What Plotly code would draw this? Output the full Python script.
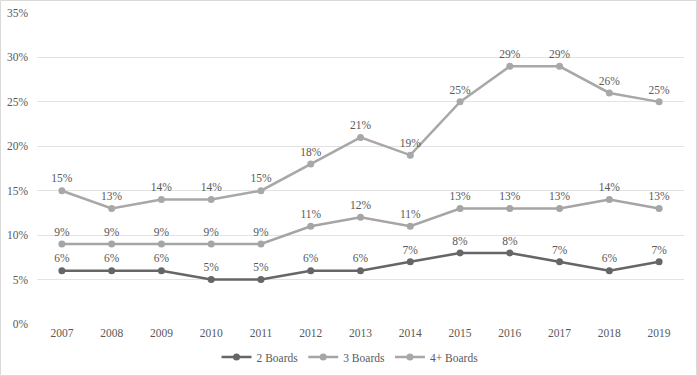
import plotly.graph_objects as go

years = [str(y) for y in range(2007, 2020)]
boards2 = [6, 6, 6, 5, 5, 6, 6, 7, 8, 8, 7, 6, 7]
boards3 = [9, 9, 9, 9, 9, 11, 12, 11, 13, 13, 13, 14, 13]
boards4 = [15, 13, 14, 14, 15, 18, 21, 19, 25, 29, 29, 26, 25]
names = ["2 Boards", "3 Boards", "4+ Boards"]
colors = ["#666666", "#a5a5a5", "#a8a8a8"]

FONT = "'Liberation Serif', 'Times New Roman', serif"

fig = go.Figure()
for name, vals, c in zip(names, [boards2, boards3, boards4], colors):
    fig.add_trace(go.Scatter(
        x=years, y=vals, name=name, mode="lines+markers+text",
        line=dict(color=c, width=2.5), marker=dict(color=c, size=7),
        text=[f"{v}%" for v in vals], textposition="top center",
        textfont=dict(family=FONT, size=11.5, color="#595959"),
        cliponaxis=False,
    ))

L, R, T, B = 37, 13, 13, 52
W, H = 697, 376
pw, ph = W - L - R, H - T - B
fig.add_shape(type="rect", xref="paper", yref="paper",
              x0=-(L - 0.5) / pw, x1=1 + (R - 0.5) / pw,
              y0=-(B - 0.5) / ph, y1=1 + (T - 0.5) / ph,
              line=dict(color="#d9d9d9", width=1))

fig.update_layout(
    width=W, height=H, margin=dict(l=L, r=R, t=T, b=B, autoexpand=False),
    paper_bgcolor="white", plot_bgcolor="white",
    font=dict(family=FONT, size=11.5, color="#595959"),
    showlegend=True,
    legend=dict(orientation="h", x=(350 - L) / pw, xanchor="center",
                y=-(357 - 324) / ph, yanchor="middle",
                font=dict(family=FONT, size=11.5, color="#595959"), itemwidth=30,
                tracegroupgap=0),
    xaxis=dict(type="category", range=[-0.5, len(years) - 0.5], showgrid=False,
               showline=False, ticks="", tickfont=dict(family=FONT, size=11.5), automargin=False),
    yaxis=dict(range=[0, 35], dtick=5, ticksuffix="%", showgrid=True,
               gridcolor="#e3e3e3", gridwidth=1, zeroline=False, showline=False,
               tickfont=dict(family=FONT, size=11.5), ticklabelstandoff=8, automargin=False),
)
fig.write_html("out.html", config={"displayModeBar": False},
               post_script="document.body.style.margin='0';document.body.style.overflow='hidden';")
